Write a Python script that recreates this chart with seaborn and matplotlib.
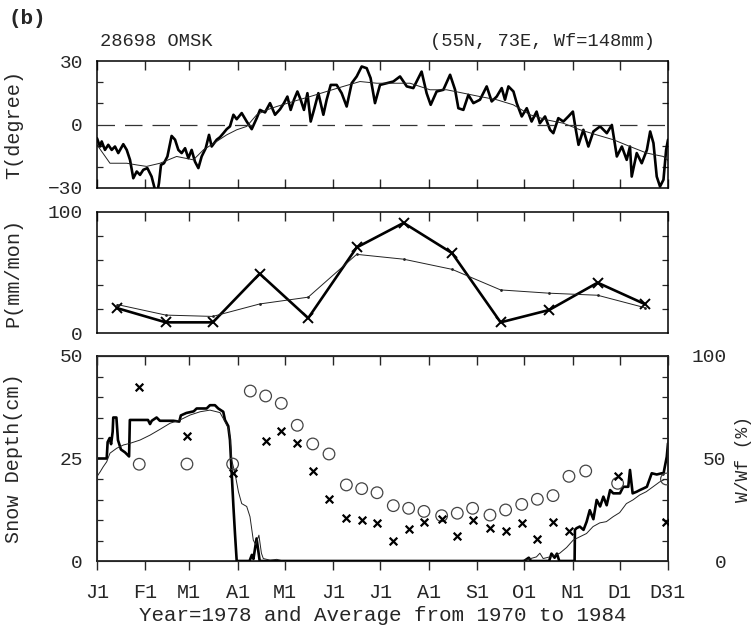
import numpy as np
import pandas as pd
import seaborn as sns
import matplotlib.pyplot as plt

sns.set_style("ticks")
plt.rcParams['font.family'] = ['Liberation Mono', 'DejaVu Sans']

month_days = [0, 31, 59, 90, 120, 151, 181, 212, 243, 273, 304, 334, 365]
month_labels = ['J1', 'F1', 'M1', 'A1', 'M1', 'J1', 'J1', 'A1', 'S1', 'O1', 'N1', 'D1', 'D31']

# daily temperature, 1978 (thick) -- day of year, degree
t78_day = [0, 1.9, 3.0, 5.1, 7.2, 9.4, 11.5, 13.6, 16.8, 19.0, 21.1, 23.2, 25.4, 27.5, 29.6,
           32.2, 34.9, 37.1, 38.1, 39.6, 40.9, 42.8, 45.0, 47.7, 49.9, 52.0, 54.1, 56.3, 58.4,
           60.5, 62.6, 64.8, 66.9, 69.5, 71.6, 73.3, 76.5, 78.6, 80.8, 82.9, 85.0, 87.2, 89.3,
           92.5, 95.7, 98.9, 102.1, 104.2, 107.4, 110.6, 113.8, 117.0, 119.5, 121.7, 123.8,
           125.9, 128.1, 130.2, 132.3, 134.5, 136.6, 138.7, 141.5, 144.7, 146.8, 149.4, 153.2,
           156.4, 159.6, 162.8, 166.0, 169.2, 172.4, 174.9, 177.7, 180.9, 185.2, 189.4, 193.7,
           198.0, 202.2, 205.4, 207.5, 210.7, 213.3, 217.1, 221.4, 225.7, 228.9, 231.0, 234.2,
           237.4, 240.6, 244.8, 249.1, 252.3, 255.5, 258.7, 260.8, 263.0, 266.2, 268.3, 271.5,
           274.7, 277.8, 281.0, 283.1, 286.4, 289.6, 291.7, 294.9, 298.1, 301.3, 304.2, 305.7,
           307.8, 310.9, 314.1, 317.3, 321.6, 325.9, 329.1, 332.3, 335.5, 338.6, 340.7, 341.8,
           345.0, 348.2, 351.5, 353.6, 355.7, 357.8, 359.9, 362.1, 363.8, 365.0]
t78_val = [-6.5, -10.4, -8.0, -12.0, -9.6, -12.0, -10.4, -13.5, -9.3, -12.0, -16.7, -25.4, -22.2,
           -23.8, -21.4, -20.6, -24.6, -30.9, -34.0, -27.7, -19.1, -18.3, -15.1, -5.4, -7.2,
           -12.0, -13.5, -11.2, -15.9, -12.0, -17.5, -20.6, -15.1, -11.2, -4.9, -10.4, -7.2,
           -6.0, -4.1, -2.2, -0.9, 4.6, 2.5, 5.4, 1.4, -2.2, 3.0, 6.9, 5.7, 10.1, 4.6, 7.2, 10.1,
           13.2, 6.9, 11.7, 15.6, 11.7, 6.9, 14.8, 1.4, 6.9, 14.8, 4.6, 11.7, 18.7, 18.7, 14.8,
           8.5, 19.5, 22.7, 27.4, 26.6, 21.9, 10.1, 18.7, 19.5, 20.3, 22.7, 18.0, 17.2, 21.9,
           25.0, 14.8, 9.3, 15.6, 16.4, 23.5, 16.4, 7.7, 6.9, 14.0, 10.1, 11.7, 18.0, 10.9, 13.2,
           17.2, 11.7, 18.0, 15.6, 10.1, 3.8, 7.7, 1.4, 6.1, 0.6, 3.8, -2.5, -4.1, 3.0, 1.4, 3.8,
           6.1, -0.9, -9.6, -2.5, -10.4, -3.3, -0.9, -4.1, -0.2, -15.1, -10.4, -16.7, -10.4,
           -24.6, -13.5, -18.3, -12.0, -3.3, -8.8, -24.6, -29.3, -26.1, -12.0, -7.2]

# daily temperature, 1970-1984 average (thin)
tavg_day = [0, 8.3, 19.0, 25.4, 31.7, 40.3, 50.9, 61.6, 68.0, 76.5, 82.9, 89.3, 95.7, 102.1,
            108.5, 114.9, 125.5, 136.2, 146.8, 157.5, 168.1, 178.8, 189.4, 200.1, 212.9, 223.5,
            234.2, 244.8, 255.5, 266.1, 276.8, 287.4, 298.1, 308.8, 319.4, 330.1, 340.7, 351.4,
            362.0, 365.0]
tavg_val = [-9.6, -18.3, -18.3, -19.1, -19.8, -18.3, -15.1, -16.7, -12.0, -8.0, -4.9, -2.5,
            -0.9, 4.6, 6.9, 8.5, 10.9, 13.2, 15.6, 18.0, 20.3, 19.5, 19.5, 19.5, 16.4, 16.4,
            14.8, 13.2, 11.7, 9.3, 4.6, 2.2, 0.6, -2.5, -4.9, -7.2, -10.4, -13.5, -15.1, -17.0]

# monthly precipitation (mm/mon)
p_day = [13, 44, 74, 104, 135, 166, 196, 227, 258, 289, 320, 350]
p_1978 = [20.5, 8.8, 8.8, 49, 12.3, 70.7, 91, 66, 8.8, 19, 41.6, 24]
p_avg = [23.5, 14.8, 13.7, 24, 29.6, 65, 61, 52.6, 35.6, 32.9, 31.2, 21]

# snow depth 1978 (thick), cm
s78_day = [0, 6.2, 6.8, 8.1, 9.0, 10.0, 10.4, 12.4, 13.4, 15.3, 17.9, 20.5, 21.0, 32.6, 33.9,
           35.0, 38.1, 40.2, 48.8, 52.6, 53.6, 57.1, 61.8, 63.7, 70.1, 72.2, 75.4, 77.5, 80.7,
           81.8, 83.9, 85.0, 86.1, 87.2, 88.2, 89.3, 97.5, 99.0, 100.0, 102.0, 104.0, 273, 276,
           277.5, 289, 290.5, 292.5, 294, 295.5, 305.3, 305.5, 306.5, 308.6, 311, 313, 315,
           317.3, 319.4, 321.6, 323.7, 325.8, 328, 330, 334.3, 336.4, 339.6, 340.7, 342.4, 345,
           347, 349.3, 351.5, 354.6, 357.8, 361, 362, 364.2, 365]
s78_val = [25.0, 25.0, 29.0, 30.0, 28.5, 31.5, 35.0, 35.0, 29.5, 27.2, 26.5, 25.5, 34.4, 34.4,
           33.4, 34.2, 35.0, 34.2, 34.2, 34.0, 35.5, 36.1, 36.5, 37.2, 37.2, 38.0, 38.0, 37.2,
           36.4, 34.4, 32.9, 29.5, 21.4, 13.3, 6.7, 0, 0, 1.5, 0.5, 5.5, 0, 0, 0.8, 0, 0, 1.8,
           0.8, 1.8, 0, 0, 7.6, 8.0, 8.4, 7.6, 9.6, 12.4, 10.2, 14.9, 13.3, 15.7, 13.6, 17.3,
           16.5, 16.5, 18.1, 18.1, 22.2, 16.5, 16.9, 17.3, 17.7, 18.1, 21.4, 21.1, 21.4, 21.1,
           25.4, 28.7]

# snow depth average (thin), cm
savg_day = [0, 2.1, 4.0, 6.2, 8.3, 12.6, 16.9, 21.1, 27.5, 33.9, 40.2, 46.7, 53.1, 59.5, 65.9,
            72.2, 78.6, 81.8, 83.9, 85.0, 86.1, 88.2, 90.4, 92.5, 95.7, 97.8, 99.9, 101.4,
            103.5, 105.1, 106.3, 110.6, 114.9, 119, 270, 274.5, 280.9, 283.1, 285.2, 291.5,
            295.8, 300.2, 304.4, 308.6, 312.9, 317.1, 321.4, 325.6, 329.9, 334.1, 338.4, 342.6,
            346.9, 351.1, 355.4, 359.7, 362.9, 365]
savg_val = [20.6, 21.8, 23.0, 24.2, 26.3, 27.5, 28.3, 28.7, 29.5, 30.7, 32.1, 33.6, 34.4, 35.6,
            36.4, 36.8, 36.2, 34.0, 32.4, 30.4, 24.6, 21.4, 16.9, 14.0, 13.3, 10.8, 5.1, 4.0,
            6.3, 1.9, 0.6, 0.2, 0.4, 0, 0, 0.3, 1.0, 1.9, 0.6, 1.2, 1.9, 3.3, 5.1, 5.9, 6.7, 8.4,
            9.3, 9.6, 10.8, 11.8, 14.0, 14.9, 16.1, 16.9, 18.1, 19.3, 19.9, 19.8]

# soil moisture W/Wf (%), average (circles) and 1978 (crosses)
wavg_day = [27, 57.5, 86.7, 98, 107.8, 117.8, 128, 137.9, 148.3, 159.4, 169.2, 179, 189.4,
            199.2, 209, 220.3, 230.3, 240.1, 251.2, 261.2, 271.5, 281.5, 291.5, 301.7, 312.4,
            332.8, 364]
wavg_val = [47.2, 47.3, 47.3, 82.9, 80.5, 76.9, 66.2, 57.1, 52.2, 37.1, 35.3, 33.3, 27.0, 25.7,
            24.2, 22.1, 23.3, 25.7, 22.4, 24.9, 27.6, 30.1, 31.9, 41.3, 43.9, 37.9, 40.0]
w78_day = [27, 57.5, 86.7, 107.8, 117.8, 128, 137.9, 148.3, 159.4, 169.2, 179, 189.4, 199.2,
           209, 220.3, 230.3, 240.1, 251.2, 261.2, 271.5, 281.5, 291.5, 301.7, 332.8, 363.7]
w78_val = [84.7, 60.8, 42.8, 58.5, 63.4, 57.7, 44.1, 30.1, 21.1, 19.8, 18.5, 9.8, 15.6, 18.9,
           20.5, 12.2, 19.8, 15.9, 14.8, 18.5, 10.6, 19.2, 14.6, 41.6, 19.2]

W, H = 754, 629
fig = plt.figure(figsize=(W / 100, H / 100), dpi=100)


def box(x0, y0, x1, y1):
    return [x0 / W, 1 - y1 / H, (x1 - x0) / W, (y1 - y0) / H]


ax1 = fig.add_axes(box(97, 61, 668, 188))
ax2 = fig.add_axes(box(97, 212, 668, 333))
ax3 = fig.add_axes(box(97, 356, 668, 561))
ax4 = ax3.twinx()

thick = dict(color='black', linewidth=1.9)
thin = dict(color='#222222', linewidth=0.7)

# temperature
sns.lineplot(x=t78_day, y=t78_val, ax=ax1, estimator=None, sort=False, **thick)
sns.lineplot(x=tavg_day, y=tavg_val, ax=ax1, estimator=None, sort=False, **thin)
ax1.axhline(0, color='#333333', linewidth=0.9, dashes=(14, 8))
ax1.set_ylim(-30, 30)
ax1.set_yticks([-30, 0, 30])
ax1.set_yticks([-20, -10, 10, 20], minor=True)
ax1.set_ylabel('T(degree)')

# precipitation
sns.lineplot(x=p_day, y=p_1978, ax=ax2, marker='x', markersize=7, markeredgewidth=1.4,
             markeredgecolor='black', estimator=None, sort=False, **thick)
sns.lineplot(x=p_day, y=p_avg, ax=ax2, marker='o', markersize=2, markeredgewidth=0,
             estimator=None, sort=False, **thin)
ax2.set_ylim(0, 100)
ax2.set_yticks([0, 100])
ax2.set_yticks([20, 40, 60, 80], minor=True)
ax2.set_ylabel('P(mm/mon)')

# snow depth and W/Wf
sns.lineplot(x=s78_day, y=s78_val, ax=ax3, estimator=None, sort=False, **thick)
sns.lineplot(x=savg_day, y=savg_val, ax=ax3, estimator=None, sort=False, **thin)
ax3.set_ylim(0, 50)
ax3.set_yticks([0, 25, 50])
ax3.set_yticks(np.arange(5, 50, 5), minor=True)
ax3.set_ylabel('Snow Depth(cm)')
ax3.set_xlabel('Year=1978 and Average from 1970 to 1984', fontsize=15, labelpad=3)

sns.scatterplot(x=wavg_day, y=wavg_val, ax=ax4, marker='o', s=70, facecolor='none',
                edgecolor='#444444', linewidth=0.9, zorder=3)
sns.scatterplot(x=w78_day, y=w78_val, ax=ax4, marker='x', s=30, color='black',
                linewidth=1.6, zorder=3)
ax4.set_ylim(0, 100)
ax4.set_yticks([0, 50, 100])
ax4.set_ylabel('W/Wf (%)', fontsize=13)
ax4.yaxis.set_label_coords(1.118, 0.5)
ax4.tick_params(axis='y', which='major', direction='in', length=0, pad=42, labelsize=14)
for lab in ax4.get_yticklabels():
    lab.set_horizontalalignment('right')
ax4.grid(False)

for ax in (ax1, ax2, ax3):
    ax.set_xlim(0, 365)
    ax.set_xticks(month_days)
    ax.grid(False)
    for s in ax.spines.values():
        s.set_visible(True)
        s.set_linewidth(1.1)
        s.set_color('black')
    ax.tick_params(axis='y', which='major', direction='in', length=0, pad=10, labelsize=14,
                   left=True, right=False)
    ax.tick_params(axis='y', which='minor', direction='in', length=4, width=0.9,
                   left=True, right=True)
    ax.yaxis.label.set_size(14.5)
    ax.yaxis.set_label_coords(-0.13, 0.5)

ax1.tick_params(axis='x', direction='in', length=6.5, width=1.0, top=True, bottom=True,
                labelbottom=False)
ax2.tick_params(axis='x', direction='in', length=6.5, width=1.0, top=True, bottom=False,
                labelbottom=False)
ax3.tick_params(axis='x', direction='out', length=6.5, width=1.0, top=False, bottom=True,
                pad=9, labelsize=14.5)
ax3.set_xticklabels(month_labels)
sec = ax3.secondary_xaxis('top')
sec.set_xticks(month_days)
sec.tick_params(direction='in', length=6.5, width=1.0, labeltop=False)
ax4.spines['right'].set_linewidth(1.1)

fig.text(8 / W, 1 - 18 / H, '(b)', fontsize=15, fontweight='bold', va='center', ha='left')
fig.text(100 / W, 1 - 42 / H, '28698 OMSK', fontsize=13.5, va='center', ha='left')
fig.text(655 / W, 1 - 42 / H, '(55N, 73E, Wf=148mm)', fontsize=13.5, va='center', ha='right')

fig.savefig('out.png', dpi=100)
